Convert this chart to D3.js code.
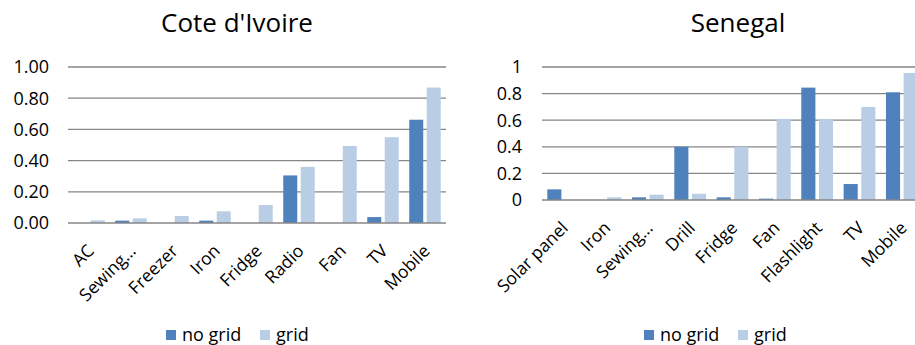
<!DOCTYPE html>
<html>
<head>
<meta charset="utf-8">
<script src="https://cdn.jsdelivr.net/npm/d3@7"></script>
<style>
  body { margin: 0; background: #fff; }
  svg { display: block; font-family: "Open Sans", "Noto Sans", sans-serif; }
</style>
</head>
<body>
<svg id="chart" width="915" height="345"></svg>
<script>
// Appliance ownership shares by grid access
const seriesNames = ["no grid", "grid"];
const seriesColors = ["#4f81bd", "#b9cde5"];

const civCategories = ["AC", "Sewing…", "Freezer", "Iron", "Fridge", "Radio", "Fan", "TV", "Mobile"];
const civNoGrid = [0, 0.015, 0, 0.015, 0, 0.305, 0, 0.038, 0.662];
const civGrid = [0.017, 0.03, 0.045, 0.075, 0.115, 0.36, 0.494, 0.55, 0.868];
const civTicks = [0, 0.2, 0.4, 0.6, 0.8, 1.0];

const senCategories = ["Solar panel", "Iron", "Sewing…", "Drill", "Fridge", "Fan", "Flashlight", "TV", "Mobile"];
const senNoGrid = [0.08, 0, 0.02, 0.40, 0.02, 0.01, 0.845, 0.12, 0.81];
const senGrid = [0, 0.02, 0.04, 0.047, 0.40, 0.61, 0.61, 0.70, 0.955];
const senTicks = [0, 0.2, 0.4, 0.6, 0.8, 1];

const svg = d3.select("#chart");

function drawPanel(opts) {
  const g = svg.append("g");
  const x = d3.scaleBand().domain(opts.categories).range([opts.x0, opts.x1]).padding(0);
  const y = d3.scaleLinear().domain([0, 1]).range([opts.yBottom, opts.yTop]);
  const sub = d3.scaleBand().domain(seriesNames).range([0, x.bandwidth()])
    .paddingInner(0.2).paddingOuter(0.3);

  // title
  g.append("text")
    .attr("x", opts.titleX).attr("y", 32)
    .attr("text-anchor", "middle")
    .attr("font-size", 26).attr("fill", "#000")
    .text(opts.title);

  // gridlines
  g.append("g").selectAll("line")
    .data(opts.ticks.filter(t => t > 0))
    .join("line")
    .attr("x1", opts.x0).attr("x2", opts.x1)
    .attr("y1", d => y(d)).attr("y2", d => y(d))
    .attr("stroke", "#868686").attr("stroke-width", 1.3);

  // y tick labels
  g.append("g").selectAll("text")
    .data(opts.ticks)
    .join("text")
    .attr("x", opts.labelX).attr("y", d => y(d))
    .attr("dy", "0.36em")
    .attr("text-anchor", "end")
    .attr("font-size", 18).attr("fill", "#000")
    .text(opts.fmt);

  // bars
  const rows = opts.categories.map((c, i) => ({ c, vals: [opts.a[i], opts.b[i]] }));
  const grp = g.append("g").selectAll("g").data(rows).join("g")
    .attr("transform", d => `translate(${x(d.c)},0)`);
  grp.selectAll("rect")
    .data(d => d.vals.map((v, k) => ({ k, v })))
    .join("rect")
    .attr("x", d => sub(seriesNames[d.k]))
    .attr("width", sub.bandwidth())
    .attr("y", d => y(d.v))
    .attr("height", d => y(0) - y(d.v))
    .attr("fill", d => seriesColors[d.k]);

  // baseline
  g.append("line")
    .attr("x1", opts.x0).attr("x2", opts.x1)
    .attr("y1", y(0)).attr("y2", y(0))
    .attr("stroke", "#868686").attr("stroke-width", 1.5);

  // category labels
  g.append("g").selectAll("text")
    .data(opts.categories)
    .join("text")
    .attr("transform", d => `translate(${x(d) + x.bandwidth() / 2 + 6},${opts.yBottom + 29}) rotate(-45)`)
    .attr("text-anchor", "end")
    .attr("font-size", 17.5).attr("fill", "#000")
    .text(d => d);

  // legend
  const lg = g.append("g").attr("transform", `translate(${opts.legendX},335)`);
  const items = [
    { name: seriesNames[0], color: seriesColors[0], dx: 0 },
    { name: seriesNames[1], color: seriesColors[1], dx: opts.legendGap }
  ];
  items.forEach(it => {
    lg.append("rect").attr("x", it.dx).attr("y", -5).attr("width", 10).attr("height", 10).attr("fill", it.color);
    lg.append("text").attr("x", it.dx + 16).attr("y", 6)
      .attr("font-size", 18).attr("fill", "#000").text(it.name);
  });
}

drawPanel({
  title: "Cote d'Ivoire", titleX: 237,
  categories: civCategories, a: civNoGrid, b: civGrid, ticks: civTicks,
  fmt: d3.format(".2f"),
  x0: 68, x1: 446, yTop: 67, yBottom: 223, labelX: 49,
  legendX: 166, legendGap: 94
});

drawPanel({
  title: "Senegal", titleX: 738,
  categories: senCategories, a: senNoGrid, b: senGrid, ticks: senTicks,
  fmt: d => d3.format("~g")(d),
  x0: 542, x1: 923, yTop: 67, yBottom: 200, labelX: 522,
  legendX: 644, legendGap: 94
});
</script>
</body>
</html>
